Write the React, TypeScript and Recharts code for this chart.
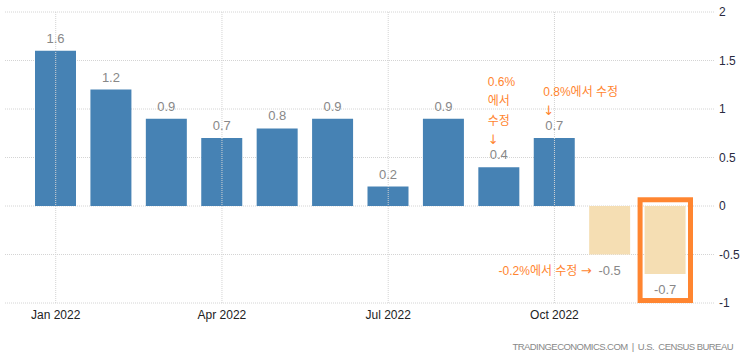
import React from 'react';
import { BarChart, Bar, XAxis, YAxis, CartesianGrid, Cell, LabelList, ReferenceArea, ReferenceLine } from 'recharts';

const months = ['Jan 2022', 'Feb 2022', 'Mar 2022', 'Apr 2022', 'May 2022', 'Jun 2022', 'Jul 2022', 'Aug 2022', 'Sep 2022', 'Oct 2022', 'Nov 2022', 'Dec 2022'];
const values = [1.6, 1.2, 0.9, 0.7, 0.8, 0.9, 0.2, 0.9, 0.4, 0.7, -0.5, -0.7];
const forecast = [false, false, false, false, false, false, false, false, false, false, true, true];
const xTicks = ['Jan 2022', 'Apr 2022', 'Jul 2022', 'Oct 2022'];
const yTicks = [-1, -0.5, 0, 0.5, 1, 1.5, 2];
// revision notes, keyed by month
const notesAbove: Record<string, string[]> = {
  'Sep 2022': ['0.6%', '에서', '수정', '↓'],
  'Oct 2022': ['0.8%에서 수정', '↓'],
};
const notesLeft: Record<string, string> = {
  'Nov 2022': '-0.2%에서 수정 →',
};
const highlight = 'Dec 2022';

const data = months.map((m, i) => ({ month: m, value: values[i], forecast: forecast[i] }));

const BLUE = '#4682b4';
const TAN = '#f5deb3';
const ORANGE = '#ff8530';
const LABEL_FONT = "'Liberation Sans', Arial, sans-serif";
const NOTE_FONT = "'Liberation Sans', 'Noto Sans CJK KR', sans-serif";
const ARROW_FONT = "'DejaVu Sans', sans-serif";

// arrows look bigger in the original, draw them with another font
const noteParts = (s: string) =>
  s.split(/([↓→])/).filter(p => p).map((p, k) =>
    p === '↓' || p === '→'
      ? <tspan key={k} fontFamily={ARROW_FONT} fontSize={13}>{p}</tspan>
      : <tspan key={k}>{p}</tspan>
  );

const ValueLabel = (props: any) => {
  const { x, y, width, value, index } = props;
  const cx = x + width / 2;
  const neg = value < 0;
  const baseline = neg ? y + 20 : y - 8;
  const m = months[index];
  const above = notesAbove[m];
  const left = notesLeft[m];
  return (
    <g>
      <text x={cx} y={baseline} textAnchor="middle" fill="#888" fontSize={13} fontFamily={LABEL_FONT}>{value}</text>
      {above && above.map((line, k) => (
        <text key={k} x={cx - 11} y={baseline - 15 - 19.5 * (above.length - 1 - k)} textAnchor="start" fill={ORANGE} fontSize={12} fontFamily={NOTE_FONT}>{noteParts(line)}</text>
      ))}
      {left && (
        <text x={cx - 18} y={baseline} textAnchor="end" fill={ORANGE} fontSize={12} fontFamily={NOTE_FONT}>{noteParts(left)}</text>
      )}
    </g>
  );
};

const HighlightBox = (props: any) => {
  const { x, y, width, height } = props;
  return <rect x={x + 2.5} y={y + 2.5} width={width - 5} height={height - 4} fill="none" stroke={ORANGE} strokeWidth={5} />;
};

export default function App() {
  return (
    <div style={{ position: 'absolute', left: 0, top: 0, width: 748, height: 359, background: '#fff' }}>
      <BarChart width={748} height={359} data={data} margin={{ top: 12, right: 3, bottom: 26, left: 5 }} barSize={41}>
        <CartesianGrid vertical={false} stroke="#d4d4d4" strokeDasharray="1 1" />
        {xTicks.map(t => (
          <ReferenceLine key={t} x={t} stroke="#d4d4d4" strokeDasharray="1 1" />
        ))}
        <XAxis dataKey="month" ticks={xTicks} interval={0} height={30} axisLine={false} tickLine={false}
          padding={{ left: 23, right: 22 }} tickMargin={1}
          tick={{ fontSize: 12, fill: '#222', fontFamily: LABEL_FONT }} />
        <YAxis orientation="right" width={30} domain={[-1, 2]} ticks={yTicks} axisLine={false} tickLine={false}
          tickSize={0} tickMargin={4} tick={{ fontSize: 12, fill: '#2a2a40', fontFamily: LABEL_FONT }} />
        <Bar dataKey="value" isAnimationActive={false}>
          {data.map((d, i) => <Cell key={i} fill={d.forecast ? TAN : BLUE} />)}
          <LabelList dataKey="value" content={ValueLabel} />
        </Bar>
        <ReferenceArea x1={highlight} x2={highlight} y1={-0.99} y2={0.09} shape={HighlightBox} ifOverflow="visible" />
      </BarChart>
      <div style={{ position: 'absolute', right: 15, top: 341, fontSize: 9.5, color: '#888', fontFamily: LABEL_FONT, letterSpacing: -0.55, whiteSpace: 'nowrap' }}>
        TRADINGECONOMICS.COM&nbsp;&nbsp;|&nbsp;&nbsp;U.S.&nbsp;&nbsp;CENSUS BUREAU
      </div>
    </div>
  );
}
